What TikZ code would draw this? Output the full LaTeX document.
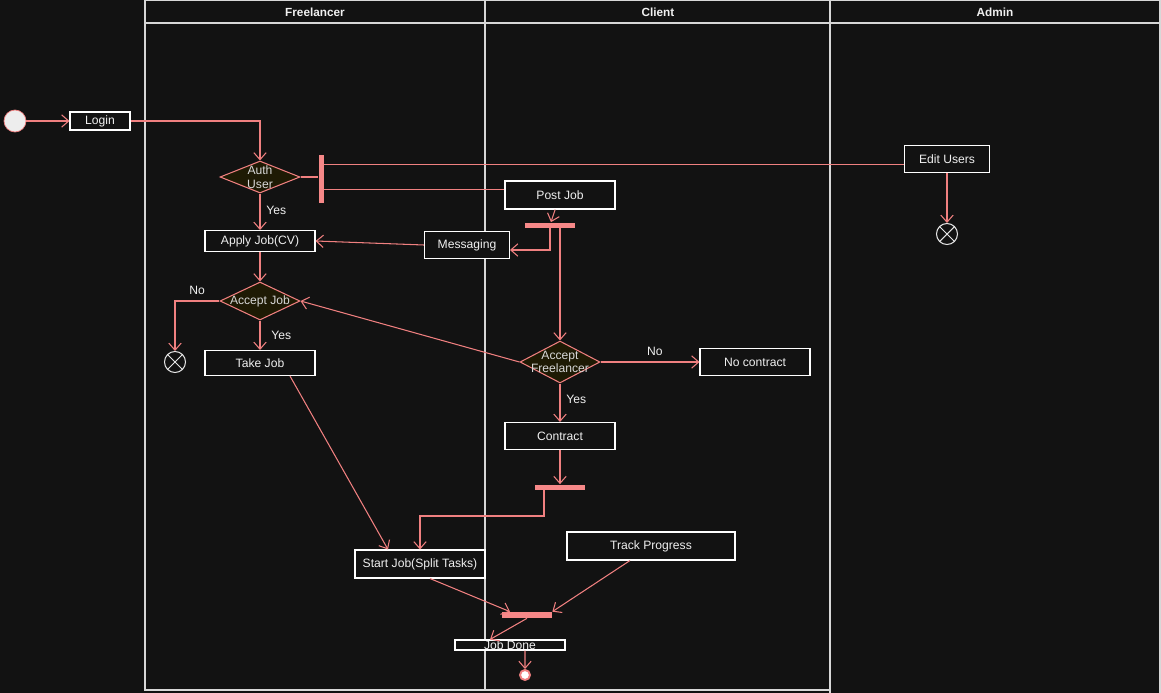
\documentclass[tikz,border=0pt]{standalone}
\usepackage{fontspec}
\setmainfont{Liberation Sans}
\usepackage{xcolor}
\usepackage{tikz}
\usetikzlibrary{shapes.geometric, arrows.meta, positioning, calc}

\definecolor{bgC}{RGB}{18,18,18}
\definecolor{laneC}{RGB}{215,215,215}
\definecolor{lineC}{RGB}{240,128,128}
\definecolor{barC}{RGB}{246,136,136}
\definecolor{decC}{RGB}{30,26,4}
\definecolor{txtC}{RGB}{240,240,240}

\newcommand{\boxfont}{\fontsize{6.9}{7.6}\selectfont}
\newcommand{\lanefont}{\bfseries\fontsize{6.7}{7}\selectfont}

\tikzset{
  lane/.style={
    draw=laneC,
    line width=0.7pt
  },
  heading/.style={
    text=txtC,
    font=\lanefont
  },
  process/.style={
    rectangle,
    draw=white,
    fill=bgC,
    text=txtC,
    font=\boxfont,
    inner sep=0pt,
    line width=0.6pt
  },
  decision/.style={
    diamond,
    draw=lineC,
    fill=decC,
    inner sep=0pt,
    minimum width=1.6cm,
    line width=0.6pt
  },
  dectext/.style={
    text=txtC!90!black,
    font=\boxfont,
    align=center
  },
  bar/.style={
    rectangle,
    fill=barC,
    draw=none,
    inner sep=0pt
  },
  guard/.style={
    text=txtC,
    font=\boxfont
  },
  initial/.style={
    circle,
    draw=lineC,
    fill=white!93!black,
    minimum size=0.44cm,
    inner sep=0pt
  },
  flowend/.style={
    circle,
    draw=white!90!black,
    minimum size=0.42cm,
    inner sep=0pt,
    line width=0.6pt,
    path picture={
      \draw[white!90!black, line width=0.6pt]
        (path picture bounding box.north west) -- (path picture bounding box.south east)
        (path picture bounding box.south west) -- (path picture bounding box.north east);
    }
  },
  final/.style={
    circle,
    draw=lineC,
    fill=white,
    line width=1.1pt,
    minimum size=0.2cm,
    inner sep=0pt
  },
  line/.style={
    draw=lineC,
    line width=0.6pt
  },
  arrow/.style={
    line,
    -{Straight Barb[length=4pt,width=7pt]}
  }
}

\begin{document}
\begin{tikzpicture}[x=0.02cm, y=-0.02cm]
\fill[bgC] (0,0) rectangle (1161,693);
\useasboundingbox (0,0) rectangle (1161,693);

% Lanes
\draw [lane] (145,0) rectangle (485,690);
\draw [lane] (485,0) rectangle (830,690);
\draw [lane] (830,0) rectangle (1160,700);
\draw [lane] (145,23) -- (1160,23);
\node (hdrFree) [heading] at (315,12) {Freelancer};
\node (hdrClient) [heading] at (658,12) {Client};
\node (hdrAdmin) [heading] at (995,12) {Admin};

% Nodes
\node (start) [initial] at (15,121) {};
\node (login) [process, minimum width=1.2cm, minimum height=0.36cm] at (100,121) {Login};
\node (auth) [decision, minimum height=0.64cm, label={[dectext]center:Auth\\User}] at (260,177) {};
\node (forkA) [bar, minimum width=0.1cm, minimum height=0.96cm] at (321,179) {};
\node (edit) [process, minimum width=1.7cm, minimum height=0.54cm] at (947,159) {Edit Users};
\node (finAdmin) [flowend] at (947,234) {};
\node (post) [process, minimum width=2.2cm, minimum height=0.56cm] at (560,195) {Post Job};
\node (forkB) [bar, minimum width=1cm, minimum height=0.1cm] at (550,225) {};
\node (msg) [process, minimum width=1.7cm, minimum height=0.54cm] at (467,245) {Messaging};
\node (apply) [process, minimum width=2.2cm, minimum height=0.42cm] at (260,241) {Apply Job(CV)};
\node (accJob) [decision, minimum height=0.76cm, label={[dectext]center:Accept Job}] at (260,301) {};
\node (finFree) [flowend] at (175,362) {};
\node (take) [process, minimum width=2.2cm, minimum height=0.5cm] at (260,363) {Take Job};
\node (accFree) [decision, minimum height=0.84cm, label={[dectext]center:Accept\\Freelancer}] at (560,362) {};
\node (noCon) [process, minimum width=2.2cm, minimum height=0.54cm] at (755,362) {No contract};
\node (contract) [process, minimum width=2.2cm, minimum height=0.54cm] at (560,436) {Contract};
\node (forkC) [bar, minimum width=1cm, minimum height=0.1cm] at (560,487) {};
\node (startJob) [process, minimum width=2.6cm, minimum height=0.56cm] at (420,564) {Start Job(Split Tasks)};
\node (track) [process, minimum width=3.36cm, minimum height=0.56cm] at (651,546) {Track Progress};
\node (join) [bar, minimum width=1cm, minimum height=0.12cm] at (527,615) {};
\node (done) [process, minimum width=2.2cm, minimum height=0.2cm, label={[text=txtC, font=\boxfont]center:Job Done}] at (510,645) {};
\node (finJob) [final] at (525,675) {};

\coordinate (forkA-up) at ($(forkA.north east)!0.2!(forkA.south east)$);
\coordinate (forkA-down) at ($(forkA.north east)!0.71!(forkA.south east)$);
\coordinate (forkC-out) at (544,490);
\coordinate (bendC) at (420,516);

% Arrows
\draw [arrow] (start) -- (login);
\draw [arrow] (login.east) -| (auth.north);
\draw [line] (auth.east) -- (auth.east -| forkA.west);
\draw [line] (forkA-up) -- (forkA-up -| edit.west);
\draw [line] (forkA-down) -- (forkA-down -| post.west);
\draw [arrow] (edit) -- (finAdmin);
\draw [arrow] (post) -- (forkB);
\draw [arrow] (forkB.south) |- ([yshift=-0.1cm]msg.east);
\draw [arrow] (forkB.south -| accFree.north) -- (accFree.north);
\draw [arrow] (msg.west) -- (apply.east);
\draw [arrow] (auth) -- node[guard, right, pos=0.45] {Yes} (apply);
\draw [arrow] (apply) -- (accJob);
\draw [arrow] (accJob.west) -| node[guard, above, pos=0.25] {No} (finFree.north);
\draw [arrow] (accJob) -- node[guard, right, xshift=0.1cm] {Yes} (take);
\draw [arrow] (accFree.west) -- (accJob.east);
\draw [arrow] (accFree) -- node[guard, above, pos=0.55] {No} (noCon);
\draw [arrow] (accFree) -- node[guard, right, pos=0.4] {Yes} (contract);
\draw [arrow] (contract) -- (forkC);
\draw [arrow] (forkC-out) |- (bendC) -- (startJob.north);
\draw [arrow] ([xshift=0.6cm]take.south) -- ([xshift=-0.64cm]startJob.north);
\draw [arrow] ([xshift=0.2cm]startJob.south) -- ([xshift=-0.34cm]join.north);
\draw [arrow] ([xshift=-0.42cm]track.south) -- (join.north east);
\draw [arrow] (join.south) -- ([xshift=-0.4cm]done.north);
\draw [arrow] ([xshift=0.3cm]done.south) -- (finJob.north);
\end{tikzpicture}
\end{document}
